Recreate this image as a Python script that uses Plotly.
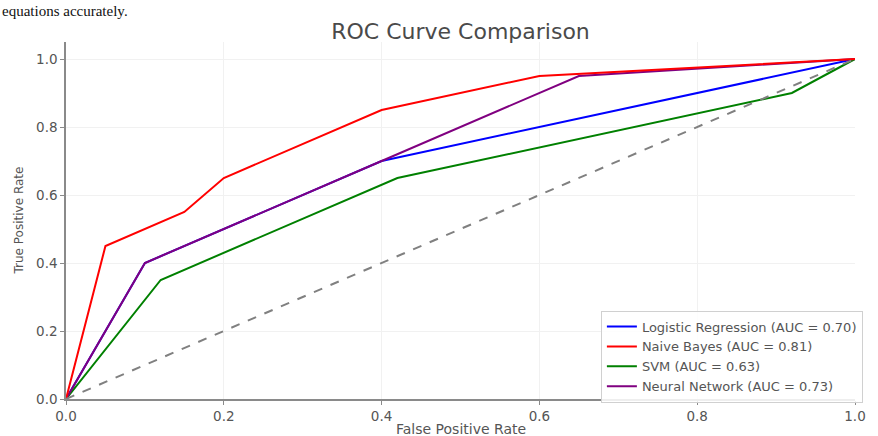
import plotly.graph_objects as go

# ROC curve points for each classifier
lr_fpr = [0.0, 0.1, 0.4, 1.0]
lr_tpr = [0.0, 0.4, 0.7, 1.0]

nb_fpr = [0.0, 0.05, 0.15, 0.2, 0.4, 0.6, 1.0]
nb_tpr = [0.0, 0.45, 0.55, 0.65, 0.85, 0.95, 1.0]

svm_fpr = [0.0, 0.12, 0.42, 0.92, 1.0]
svm_tpr = [0.0, 0.35, 0.65, 0.90, 1.0]

nn_fpr = [0.0, 0.1, 0.4, 0.65, 1.0]
nn_tpr = [0.0, 0.4, 0.7, 0.95, 1.0]

model_names = ["Logistic Regression", "Naive Bayes", "SVM", "Neural Network"]
auc_values = [0.70, 0.81, 0.63, 0.73]
line_colors = ["blue", "red", "green", "purple"]

chance_x = [0.0, 1.0]
chance_y = [0.0, 1.0]

tick_vals = [0.0, 0.2, 0.4, 0.6, 0.8, 1.0]
tick_text = ["0.0", "0.2", "0.4", "0.6", "0.8", "1.0"]

FONT = "DejaVu Sans"
fig = go.Figure()

curves = [(lr_fpr, lr_tpr), (nb_fpr, nb_tpr), (svm_fpr, svm_tpr), (nn_fpr, nn_tpr)]
# drawing order: Naive Bayes last so it sits on top where it meets the others;
# legendrank keeps the legend in the original model order
draw_order = [0, 2, 3, 1]
for i in draw_order:
    fpr, tpr = curves[i]
    fig.add_trace(go.Scatter(
        x=fpr, y=tpr, mode="lines",
        name=f"{model_names[i]} (AUC = {auc_values[i]:.2f})",
        line=dict(color=line_colors[i], width=2),
        legendrank=i + 1,
        cliponaxis=False,
    ))

fig.add_trace(go.Scatter(
    x=chance_x, y=chance_y, mode="lines",
    line=dict(color="gray", width=2, dash="dash"),
    showlegend=False, cliponaxis=False,
))

axis_common = dict(
    showline=True, linecolor="#8a8a8a", linewidth=1.5,
    ticks="outside", ticklen=4, tickcolor="#8a8a8a", tickwidth=1,
    showgrid=True, gridcolor="#f1f1f1", gridwidth=1,
    zeroline=False, mirror=False,
    tickvals=tick_vals, ticktext=tick_text,
    tickfont=dict(family=FONT, size=13.5, color="#555555"),
)

fig.update_layout(
    width=878, height=436,
    margin=dict(l=66, r=16, t=42, b=27),
    paper_bgcolor="white", plot_bgcolor="white",
    title=dict(
        text="ROC Curve Comparison",
        x=0.5, xref="paper", xanchor="center",
        y=1 - 31 / 436, yref="container", yanchor="middle",
        font=dict(family=FONT, size=22, color="#4a4a4a"),
    ),
    xaxis=dict(range=[0, 1.0], **axis_common),
    yaxis=dict(range=[0, 1.05], **axis_common),
    legend=dict(
        x=1.01, xanchor="right", y=-0.01, yanchor="bottom",
        bgcolor="rgba(255,255,255,0.85)", bordercolor="#d0d0d0", borderwidth=1,
        font=dict(family=FONT, size=13, color="#555555"),
        itemwidth=30, tracegroupgap=0,
    ),
    annotations=[
        dict(text="False Positive Rate", xref="paper", yref="paper",
             x=0.5, y=0, xanchor="center", yanchor="top", yshift=-20,
             showarrow=False, font=dict(family=FONT, size=14, color="#555555")),
        dict(text="True Positive Rate", xref="paper", yref="paper",
             x=0, y=0.5, xanchor="center", yanchor="middle", xshift=-48,
             textangle=-90, showarrow=False,
             font=dict(family=FONT, size=12, color="#555555")),
        dict(text="equations accurately.", xref="paper", yref="paper",
             x=0, y=1, xanchor="left", yanchor="bottom",
             xshift=-66, yshift=21, showarrow=False,
             font=dict(family="Liberation Serif", size=15, color="#111111")),
    ],
)

fig.write_html("out.html")
